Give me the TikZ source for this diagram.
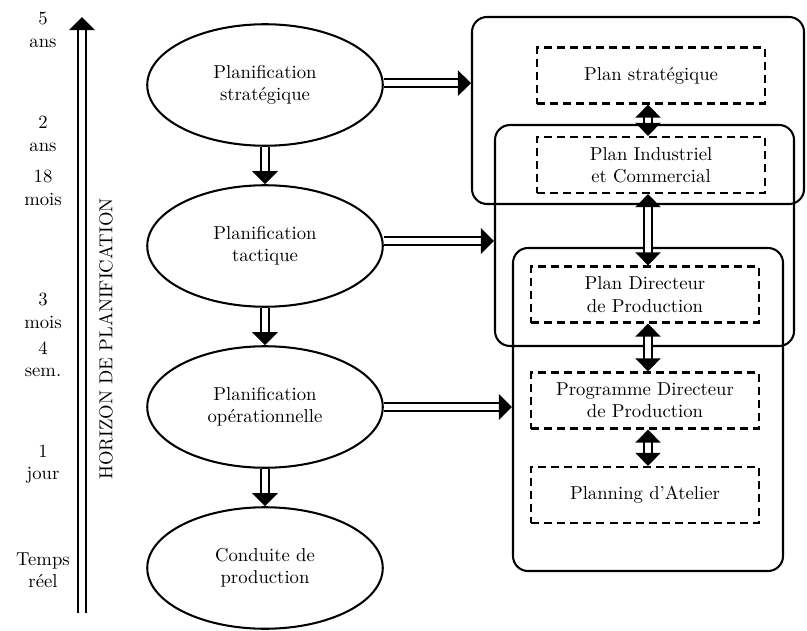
\documentclass[tikz,border=0pt]{standalone}
\usepackage{tikz}
\usetikzlibrary{arrows.meta, positioning, shapes.geometric, fit}

\begin{document}
\begin{tikzpicture}[
    x=0.535pt, y=-0.535pt,
    >={Triangle[length=7pt, width=13.5pt]},
    dbl/.style={double, double distance=2.9pt, line width=1.4pt},
    niveau/.style={ellipse, draw, line width=1.1pt, minimum width=126pt,
                   minimum height=65pt, inner sep=0pt, align=center},
    plan/.style={draw, line width=1.2pt, dash pattern=on 4.3pt off 2.7pt,
                 minimum width=122pt, minimum height=30pt, align=center},
    groupe/.style={draw, line width=1.1pt, rounded corners=8pt, inner sep=0pt},
    echelle/.style={align=center},
  ]
  \useasboundingbox (0,0) rectangle (807,630);

  % echelle de temps
  \coordinate (hb) at (82,613);
  \coordinate (hh) at (82,17);
  \draw[dbl, ->] (hb) -- (hh);
  \node[rotate=90] (horiz) at (106,339) {HORIZON DE PLANIFICATION};
  \foreach \yy/\txt [count=\i] in {30/{5\\ans}, 134/{2\\ans}, 188/{18\\mois},
      311/{3\\mois}, 359/{4\\sem.}, 464/{1\\jour}, 570/{Temps\\réel}}
    \node[echelle] (duree\i) at (43,\yy) {\txt};

  % niveaux de planification
  \node[niveau] (strat) at (265,85) {Planification\\stratégique};
  \node[niveau] (tact) at (265,246) {Planification\\tactique};
  \node[niveau] (oper) at (265,407) {Planification\\opérationnelle};
  \node[niveau] (cond) at (265,568) {Conduite de\\production};
  \draw[dbl, ->] (strat) -- (tact);
  \draw[dbl, ->] (tact) -- (oper);
  \draw[dbl, ->] (oper) -- (cond);

  % plans
  \node[groupe, fit={(472,17) (804,204)}] (g1) {};
  \node[groupe, fit={(495,125) (794,346)}] (g2) {};
  \node[groupe, fit={(513,248) (783,571)}] (g3) {};
  \node[plan] (ps) at (651,75.5) {Plan stratégique};
  \node[plan] (pic) at (651,165) {Plan Industriel\\et Commercial};
  \node[plan] (pdp) at (645,294.5) {Plan Directeur\\de Production};
  \node[plan] (pgdp) at (645,400.5) {Programme Directeur\\de Production};
  \node[plan] (atel) at (645,495) {Planning d'Atelier};
  \coordinate (axe) at (648,0);
  \foreach \a/\b in {ps/pic, pic/pdp, pdp/pgdp, pgdp/atel}
    \draw[dbl, <->] (\a.south -| axe) -- (\b.north -| axe);

  \draw[dbl, ->] ([yshift=1pt]strat.east) -- ([yshift=1pt]strat.east -| g1.west);
  \draw[dbl, ->] ([yshift=2.7pt]tact.east) -- ([yshift=2.7pt]tact.east -| g2.west);
  \draw[dbl, ->] (oper.east) -- (oper.east -| g3.west);
\end{tikzpicture}
\end{document}
